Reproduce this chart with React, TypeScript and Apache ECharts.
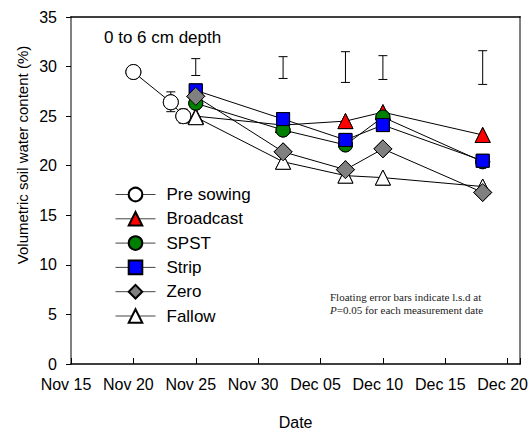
import React, { useEffect, useRef } from 'react';
import * as echarts from 'echarts';

// ---- data ----
const originDate = '2000-11-15';
const xTickLabels = ['Nov 15', 'Nov 20', 'Nov 25', 'Nov 30', 'Dec 05', 'Dec 10', 'Dec 15', 'Dec 20'];

const preSowingDates = ['2000-11-20', '2000-11-23', '2000-11-24'];
const preSowingValues = [29.45, 26.4, 25.0];
const preSowingErrDates = ['2000-11-23', '2000-11-24'];
const preSowingErrLow = [25.45, 24.3];
const preSowingErrHigh = [27.45, 25.7];

const treatmentDates = ['2000-11-25', '2000-12-02', '2000-12-07', '2000-12-10', '2000-12-18'];
const broadcastValues = [25.0, 24.1, 24.5, 25.4, 23.1];
const spstValues = [26.3, 23.6, 22.1, 24.9, 20.4];
const stripValues = [27.6, 24.7, 22.6, 24.1, 20.5];
const zeroValues = [27.0, 21.4, 19.6, 21.7, 17.3];
const fallowValues = [24.9, 20.4, 19.0, 18.8, 17.9];

const lsdLow = [29.1, 28.8, 28.4, 28.7, 28.2];
const lsdHigh = [30.8, 31.0, 31.5, 31.1, 31.6];

const legendNames = ['Pre sowing', 'Broadcast', 'SPST', 'Strip', 'Zero', 'Fallow'];

const SANS = '"Liberation Sans", Arial, sans-serif';
const SERIF = '"Liberation Serif", "Times New Roman", serif';

const dayOf = (s: string) => (Date.parse(s) - Date.parse(originDate)) / 86400000;
const pairs = (dates: string[], vals: number[]) => dates.map((d, i) => [dayOf(d), vals[i]]);

export default function App() {
  const ref = useRef<HTMLDivElement>(null);
  useEffect(() => {
    if (!ref.current) return;
    const chart = echarts.init(ref.current, null, { renderer: 'svg' });

    const defs = [
      { name: 'Pre sowing', symbol: 'circle', size: 15, color: '#ffffff', data: pairs(preSowingDates, preSowingValues) },
      { name: 'Broadcast', symbol: 'triangle', size: 15, color: '#ff0000', data: pairs(treatmentDates, broadcastValues) },
      { name: 'SPST', symbol: 'circle', size: 14, color: '#008000', data: pairs(treatmentDates, spstValues) },
      { name: 'Strip', symbol: 'rect', size: 13, color: '#0000ff', data: pairs(treatmentDates, stripValues) },
      { name: 'Fallow', symbol: 'triangle', size: 15, color: '#ffffff', data: pairs(treatmentDates, fallowValues) },
      { name: 'Zero', symbol: 'diamond', size: 18, color: '#808080', data: pairs(treatmentDates, zeroValues) },
    ];

    const lineSeries = defs.map((d) => ({
      type: 'line',
      name: d.name,
      data: d.data,
      symbol: d.symbol,
      symbolSize: d.size,
      showSymbol: true,
      z: 2,
      lineStyle: { color: '#000', width: 1 },
      itemStyle: { color: d.color, borderColor: '#000', borderWidth: 1 },
      emphasis: { disabled: true },
    }));
    const markerSeries = defs.map((d) => ({
      type: 'scatter',
      name: d.name + ' markers',
      data: d.data,
      symbol: d.symbol,
      symbolSize: d.size,
      z: 3,
      itemStyle: { color: d.color, borderColor: '#000', borderWidth: 1, opacity: 1 },
      emphasis: { disabled: true },
    }));

    const errData = [
      ...preSowingErrDates.map((d, i) => [dayOf(d), preSowingErrLow[i], preSowingErrHigh[i]]),
      ...treatmentDates.map((d, i) => [dayOf(d), lsdLow[i], lsdHigh[i]]),
    ];

    const errSeries = {
      type: 'custom',
      name: 'lsd',
      z: 1,
      data: errData,
      encode: { x: 0, y: [1, 2] },
      renderItem: (params: any, api: any) => {
        const x = api.value(0);
        const p1 = api.coord([x, api.value(1)]);
        const p2 = api.coord([x, api.value(2)]);
        const w = 4.5;
        const st = { stroke: '#000', lineWidth: 1 };
        return {
          type: 'group',
          children: [
            { type: 'line', shape: { x1: p1[0], y1: p1[1], x2: p2[0], y2: p2[1] }, style: st },
            { type: 'line', shape: { x1: p1[0] - w, y1: p1[1], x2: p1[0] + w, y2: p1[1] }, style: st },
            { type: 'line', shape: { x1: p2[0] - w, y1: p2[1], x2: p2[0] + w, y2: p2[1] }, style: st },
          ],
        };
      },
    };

    chart.setOption({
      animation: false,
      backgroundColor: '#ffffff',
      textStyle: { fontFamily: SANS, color: '#000' },
      grid: { left: 71, top: 17, right: 10, bottom: 67, containLabel: false },
      legend: {
        data: legendNames,
        orient: 'vertical',
        left: 115,
        top: 186,
        padding: 0,
        itemWidth: 40,
        itemHeight: 17,
        itemGap: 7.3,
        selectedMode: false,
        lineStyle: { color: '#444', width: 1 },
        textStyle: { fontSize: 17, color: '#000', fontFamily: SANS, padding: [0, 0, 0, 6] },
      },
      xAxis: [
        {
          type: 'value',
          min: 0,
          max: 36,
          interval: 5,
          position: 'bottom',
          axisLine: { show: true, onZero: false, lineStyle: { color: '#000', width: 1.5 } },
          axisTick: { show: true, inside: true, length: 6, lineStyle: { color: '#000', width: 1 } },
          axisLabel: {
            formatter: (v: number) => (v % 5 === 0 ? xTickLabels[v / 5] ?? '' : ''),
            fontSize: 16,
            color: '#000',
            margin: 12,
            padding: [0, 10, 0, 0],
            showMaxLabel: true,
            showMinLabel: true,
          },
          splitLine: { show: false },
          name: 'Date',
          nameLocation: 'middle',
          nameGap: 50,
          nameTextStyle: { fontSize: 16, color: '#000' },
        },
        {
          type: 'value',
          min: 0,
          max: 36,
          position: 'top',
          axisLine: { show: true, onZero: false, lineStyle: { color: '#000', width: 1.5 } },
          axisTick: { show: false },
          axisLabel: { show: false },
          splitLine: { show: false },
        },
      ],
      yAxis: [
        {
          type: 'value',
          min: 0,
          max: 35,
          interval: 5,
          axisLine: { show: true, onZero: false, lineStyle: { color: '#808080', width: 2 } },
          axisTick: { show: true, length: 5, lineStyle: { color: '#000', width: 1 } },
          axisLabel: { fontSize: 16, color: '#000', margin: 14 },
          splitLine: { show: false },
        },
        {
          type: 'value',
          min: 0,
          max: 35,
          position: 'right',
          axisLine: { show: true, onZero: false, lineStyle: { color: '#808080', width: 2 } },
          axisTick: { show: false },
          axisLabel: { show: false },
          splitLine: { show: false },
        },
      ],
      graphic: [
        {
          type: 'text',
          x: 22,
          y: 155,
          rotation: Math.PI / 2,
          style: {
            text: 'Volumetric soil water content (%)',
            font: `15px ${SANS}`,
            fill: '#000',
            align: 'center',
            verticalAlign: 'middle',
          },
        },
        {
          type: 'text',
          x: 104,
          y: 37,
          style: { text: '0 to 6 cm depth', font: `17px ${SANS}`, fill: '#000', align: 'left', verticalAlign: 'middle' },
        },
        {
          type: 'text',
          x: 330,
          y: 297,
          style: {
            text: 'Floating error bars indicate l.s.d at',
            font: `11px ${SERIF}`,
            fill: '#222',
            align: 'left',
            verticalAlign: 'middle',
          },
        },
        {
          type: 'text',
          x: 330,
          y: 309.5,
          style: {
            text: '{i|P}=0.05 for each measurement date',
            font: `11px ${SERIF}`,
            fill: '#222',
            align: 'left',
            verticalAlign: 'middle',
            rich: { i: { fontStyle: 'italic', fontSize: 11, fontFamily: SERIF, fill: '#222' } },
          },
        },
      ],
      series: [errSeries, ...lineSeries, ...markerSeries],
    });

    return () => chart.dispose();
  }, []);

  return <div ref={ref} style={{ position: 'fixed', left: 0, top: 0, width: 531, height: 435 }} />;
}
